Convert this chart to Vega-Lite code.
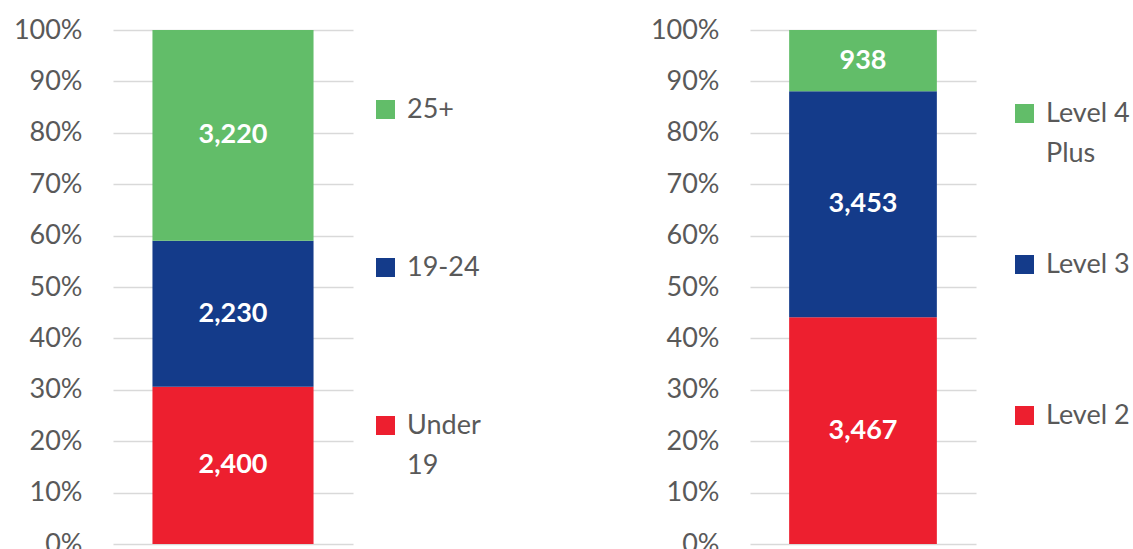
{
  "$schema": "https://vega.github.io/schema/vega-lite/v6.json",
  "background": "white",
  "padding": {"left": 13, "top": 16, "right": 0, "bottom": 0},
  "spacing": 169,
  "config": {
    "view": {"stroke": null},
    "font": "Lato",
    "axis": {"labelFontSize": 27, "labelColor": "#595959", "labelPadding": 31, "domain": false, "ticks": false, "gridColor": "#D9D9D9", "gridWidth": 1.5, "labelFont": "Lato"},
    "legend": {"labelFont": "Lato", "labelFontSize": 27, "labelColor": "#595959", "symbolType": "square", "symbolSize": 361, "symbolStrokeWidth": 0, "labelOffset": 8, "padding": 0, "title": null},
    "style": {"guide-label": {"lineHeight": 40}}
  },
  "resolve": {"scale": {"color": "independent"}},
  "hconcat": [
    {
      "width": 240,
      "height": 514,
      "data": {"values": [
        {"group": "Age", "band": "Under 19", "k": 1, "n": 2400},
        {"group": "Age", "band": "19-24", "k": 2, "n": 2230},
        {"group": "Age", "band": "25+", "k": 3, "n": 3220}
      ]},
      "encoding": {
        "x": {"field": "group", "type": "nominal", "axis": null, "scale": {"paddingInner": 0, "paddingOuter": 0.245}},
        "order": {"field": "k", "type": "quantitative", "sort": "ascending"}
      },
      "layer": [
        {
          "mark": {"type": "bar"},
          "encoding": {
            "y": {"field": "n", "type": "quantitative", "stack": "normalize", "scale": {"domain": [0, 1]}, "axis": {"values": [0, 0.1, 0.2, 0.3, 0.4, 0.5, 0.6, 0.7, 0.8, 0.9, 1], "format": ".0%", "grid": true, "title": null}},
            "color": {"field": "band", "type": "nominal", "scale": {"domain": ["25+", "19-24", "Under 19"], "range": ["#62BD69", "#143B8A", "#ED1F2F"]},
              "legend": {"orient": "none", "legendX": 259, "legendY": 66, "rowPadding": 130, "labelExpr": "datum.label == 'Under 19' ? ['Under', '19'] : datum.label"}}
          }
        },
        {
          "mark": {"type": "text", "color": "white", "fontWeight": "bold", "fontSize": 27, "font": "Lato"},
          "encoding": {
            "y": {"field": "n", "type": "quantitative", "stack": "normalize", "bandPosition": 0.5},
            "detail": {"field": "band"},
            "text": {"field": "n", "type": "quantitative", "format": ",d"}
          }
        }
      ]
    },
    {
      "width": 226,
      "height": 514,
      "data": {"values": [
        {"group": "Level", "band": "Level 2", "k": 1, "n": 3467},
        {"group": "Level", "band": "Level 3", "k": 2, "n": 3453},
        {"group": "Level", "band": "Level 4 Plus", "k": 3, "n": 938}
      ]},
      "encoding": {
        "x": {"field": "group", "type": "nominal", "axis": null, "scale": {"paddingInner": 0, "paddingOuter": 0.265}},
        "order": {"field": "k", "type": "quantitative", "sort": "ascending"}
      },
      "layer": [
        {
          "mark": {"type": "bar"},
          "encoding": {
            "y": {"field": "n", "type": "quantitative", "stack": "normalize", "scale": {"domain": [0, 1]}, "axis": {"values": [0, 0.1, 0.2, 0.3, 0.4, 0.5, 0.6, 0.7, 0.8, 0.9, 1], "format": ".0%", "grid": true, "title": null}},
            "color": {"field": "band", "type": "nominal", "scale": {"domain": ["Level 4 Plus", "Level 3", "Level 2"], "range": ["#62BD69", "#143B8A", "#ED1F2F"]},
              "legend": {"orient": "none", "legendX": 261, "legendY": 70, "rowPadding": 83, "gridAlign": "all", "labelExpr": "datum.label == 'Level 4 Plus' ? ['Level 4', 'Plus'] : datum.label"}}
          }
        },
        {
          "mark": {"type": "text", "color": "white", "fontWeight": "bold", "fontSize": 27, "font": "Lato"},
          "encoding": {
            "y": {"field": "n", "type": "quantitative", "stack": "normalize", "bandPosition": 0.5},
            "detail": {"field": "band"},
            "text": {"field": "n", "type": "quantitative", "format": ",d"}
          }
        }
      ]
    }
  ]
}
